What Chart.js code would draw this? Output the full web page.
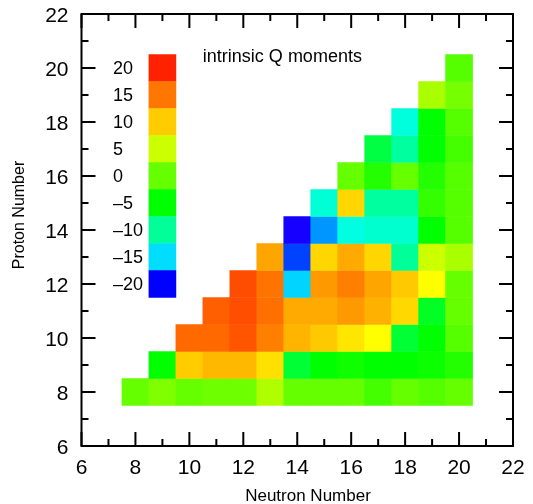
<!DOCTYPE html>
<html>
<head>
<meta charset="utf-8">
<script src="https://cdn.jsdelivr.net/npm/chart.js@4.4.1/dist/chart.umd.min.js"></script>
<style>
  html,body{margin:0;padding:0;background:#fff;}
  #wrap{width:533px;height:504px;}
</style>
</head>
<body>
<div id="wrap"><canvas id="chart"></canvas></div>
<script>
/* data: one row per proton number, each row starts at N = Z and runs to N = 20 */
const protonNumbers = [8, 9, 10, 11, 12, 13, 14, 15, 16, 17, 18, 19, 20];
const qRows = [
  [0, 1.3, 0, 0.4, 0.4, 3.6, 0, 0, 0, -1.7, 0, -0.8, 0],
  [-5, 10, 11.2, 11.2, 9.0, -6.7, -5, -4.2, -5, -5, -4.4, -3.3],
  [15.8, 15.8, 17, 14.5, 11.4, 10.2, 8.7, 7.5, -6.7, -5, -0.8],
  [16.4, 17.4, 15.4, 12, 12, 13, 11.6, 9.4, -6.1, 0],
  [17.5, 15.2, -15.2, 13, 14.5, 12.3, 10.2, 7.5, 0],
  [12.3, -18.5, 9.5, 12, 9.5, -10, 5, 3.3],
  [-20.5, -16.6, -12.6, -12, -12, -5, -0.8],
  [-12.2, 9.5, -10.2, -10.2, -2.5, -0.8],
  [0, -3.3, 0, -3.3, -0.8],
  [-7.2, -10.2, -5, -1.7],
  [-12.5, -5, -0.8],
  [3.3, 0.8],
  [-0.8]
];
const legendValues = [20, 15, 10, 5, 0, -5, -10, -15, -20];
const legendLabels = ["20", "15", "10", "5", "0", "\u20135", "\u201310", "\u201315", "\u201320"];
const axisTicks = [6, 8, 10, 12, 14, 16, 18, 20, 22];

/* colour scale (hue for each legend value) */
const stopVals = [-20, -15, -10, -5, 0, 5, 10, 15, 20];
const stopHues = [240, 188, 156, 120, 96, 72, 48, 28, 8];
function colorFor(v){
  let h;
  if(v <= stopVals[0]) h = Math.min(260, stopHues[0] + (stopVals[0]-v)*10.4);
  else if(v >= stopVals[stopVals.length-1]) h = Math.max(0, stopHues[stopHues.length-1] - (v-20)*4);
  else{
    let i = 0;
    while(v > stopVals[i+1]) i++;
    const t = (v - stopVals[i]) / (stopVals[i+1] - stopVals[i]);
    h = stopHues[i] + t*(stopHues[i+1]-stopHues[i]);
  }
  return `hsl(${h.toFixed(1)},100%,50%)`;
}

const cells = [];
protonNumbers.forEach((z,i)=>{
  qRows[i].forEach((q,j)=>{
    cells.push({x: z+j, y: [z-0.5, z+0.5], q});
  });
});
const legendCells = legendValues.map((v,i)=>({x: 9, y: [19.5-i, 20.5-i], q: v}));

const FONT = "'Liberation Sans', Arial, Helvetica, sans-serif";

/* frame, inward ticks, texts */
const decor = {
  id: "decor",
  afterDraw(chart){
    const {ctx, chartArea:a, scales:{x, y}} = chart;
    ctx.save();
    ctx.strokeStyle = "#000";
    ctx.lineWidth = 2;
    ctx.beginPath();
    for(let v = x.min; v <= x.max; v++){
      const len = v%2===0 ? 14 : 7;
      const px = x.getPixelForValue(v);
      ctx.moveTo(px, a.bottom); ctx.lineTo(px, a.bottom-len);
      ctx.moveTo(px, a.top); ctx.lineTo(px, a.top+len);
    }
    for(let v = y.min; v <= y.max; v++){
      const len = v%2===0 ? 14 : 7;
      const py = y.getPixelForValue(v);
      ctx.moveTo(a.left, py); ctx.lineTo(a.left+len, py);
      ctx.moveTo(a.right, py); ctx.lineTo(a.right-len, py);
    }
    ctx.stroke();
    ctx.strokeRect(a.left, a.top, a.right-a.left, a.bottom-a.top);

    ctx.fillStyle = "#000";
    // colour scale labels
    ctx.font = "18px " + FONT;
    ctx.textAlign = "left";
    ctx.textBaseline = "middle";
    legendLabels.forEach((t,i)=>{
      ctx.fillText(t, x.getPixelForValue(7.17), y.getPixelForValue(20-i)+1);
    });
    ctx.fillText("intrinsic Q moments", x.getPixelForValue(10.5), y.getPixelForValue(20.4));

    // axis titles
    ctx.font = "17px " + FONT;
    ctx.textAlign = "center";
    ctx.textBaseline = "alphabetic";
    ctx.fillText("Neutron Number", 308, 501);
    ctx.save();
    ctx.translate(24, 215);
    ctx.rotate(-Math.PI/2);
    ctx.font = "16px " + FONT;
    ctx.fillText("Proton Number", 0, 0);
    ctx.restore();
    ctx.restore();
  }
};

new Chart(document.getElementById("chart"), {
  type: "bar",
  data: {
    datasets: [
      {
        data: cells,
        backgroundColor: c => colorFor(c.raw.q),
        borderWidth: 0,
        grouped: false,
        barPercentage: 1,
        categoryPercentage: 1
      },
      {
        data: legendCells,
        backgroundColor: c => colorFor(c.raw.q),
        borderWidth: 0,
        grouped: false,
        barPercentage: 1,
        categoryPercentage: 1
      }
    ]
  },
  options: {
    responsive: true,
    maintainAspectRatio: false,
    animation: false,
    layout: {padding: {top: 14, right: 20, bottom: 0, left: 0}},
    plugins: {legend: {display: false}, tooltip: {enabled: false}},
    scales: {
      x: {
        type: "linear", min: 6, max: 22, offset: false,
        afterBuildTicks: s => { s.ticks = axisTicks.map(v=>({value: v})); },
        afterFit: s => { s.height = 58; s.paddingLeft = 0; s.paddingRight = 0; },
        grid: {display: false, drawTicks: false},
        border: {display: false},
        ticks: {color: "#000", font: {size: 21, family: FONT}, padding: 10, maxRotation: 0}
      },
      y: {
        type: "linear", min: 6, max: 22,
        afterBuildTicks: s => { s.ticks = axisTicks.map(v=>({value: v})); },
        afterFit: s => { s.width = 81.5; s.paddingTop = 0; s.paddingBottom = 0; },
        grid: {display: false, drawTicks: false},
        border: {display: false},
        ticks: {color: "#000", font: {size: 21, family: FONT}, padding: 13, labelOffset: 2}
      }
    }
  },
  plugins: [decor]
});
</script>
</body>
</html>
